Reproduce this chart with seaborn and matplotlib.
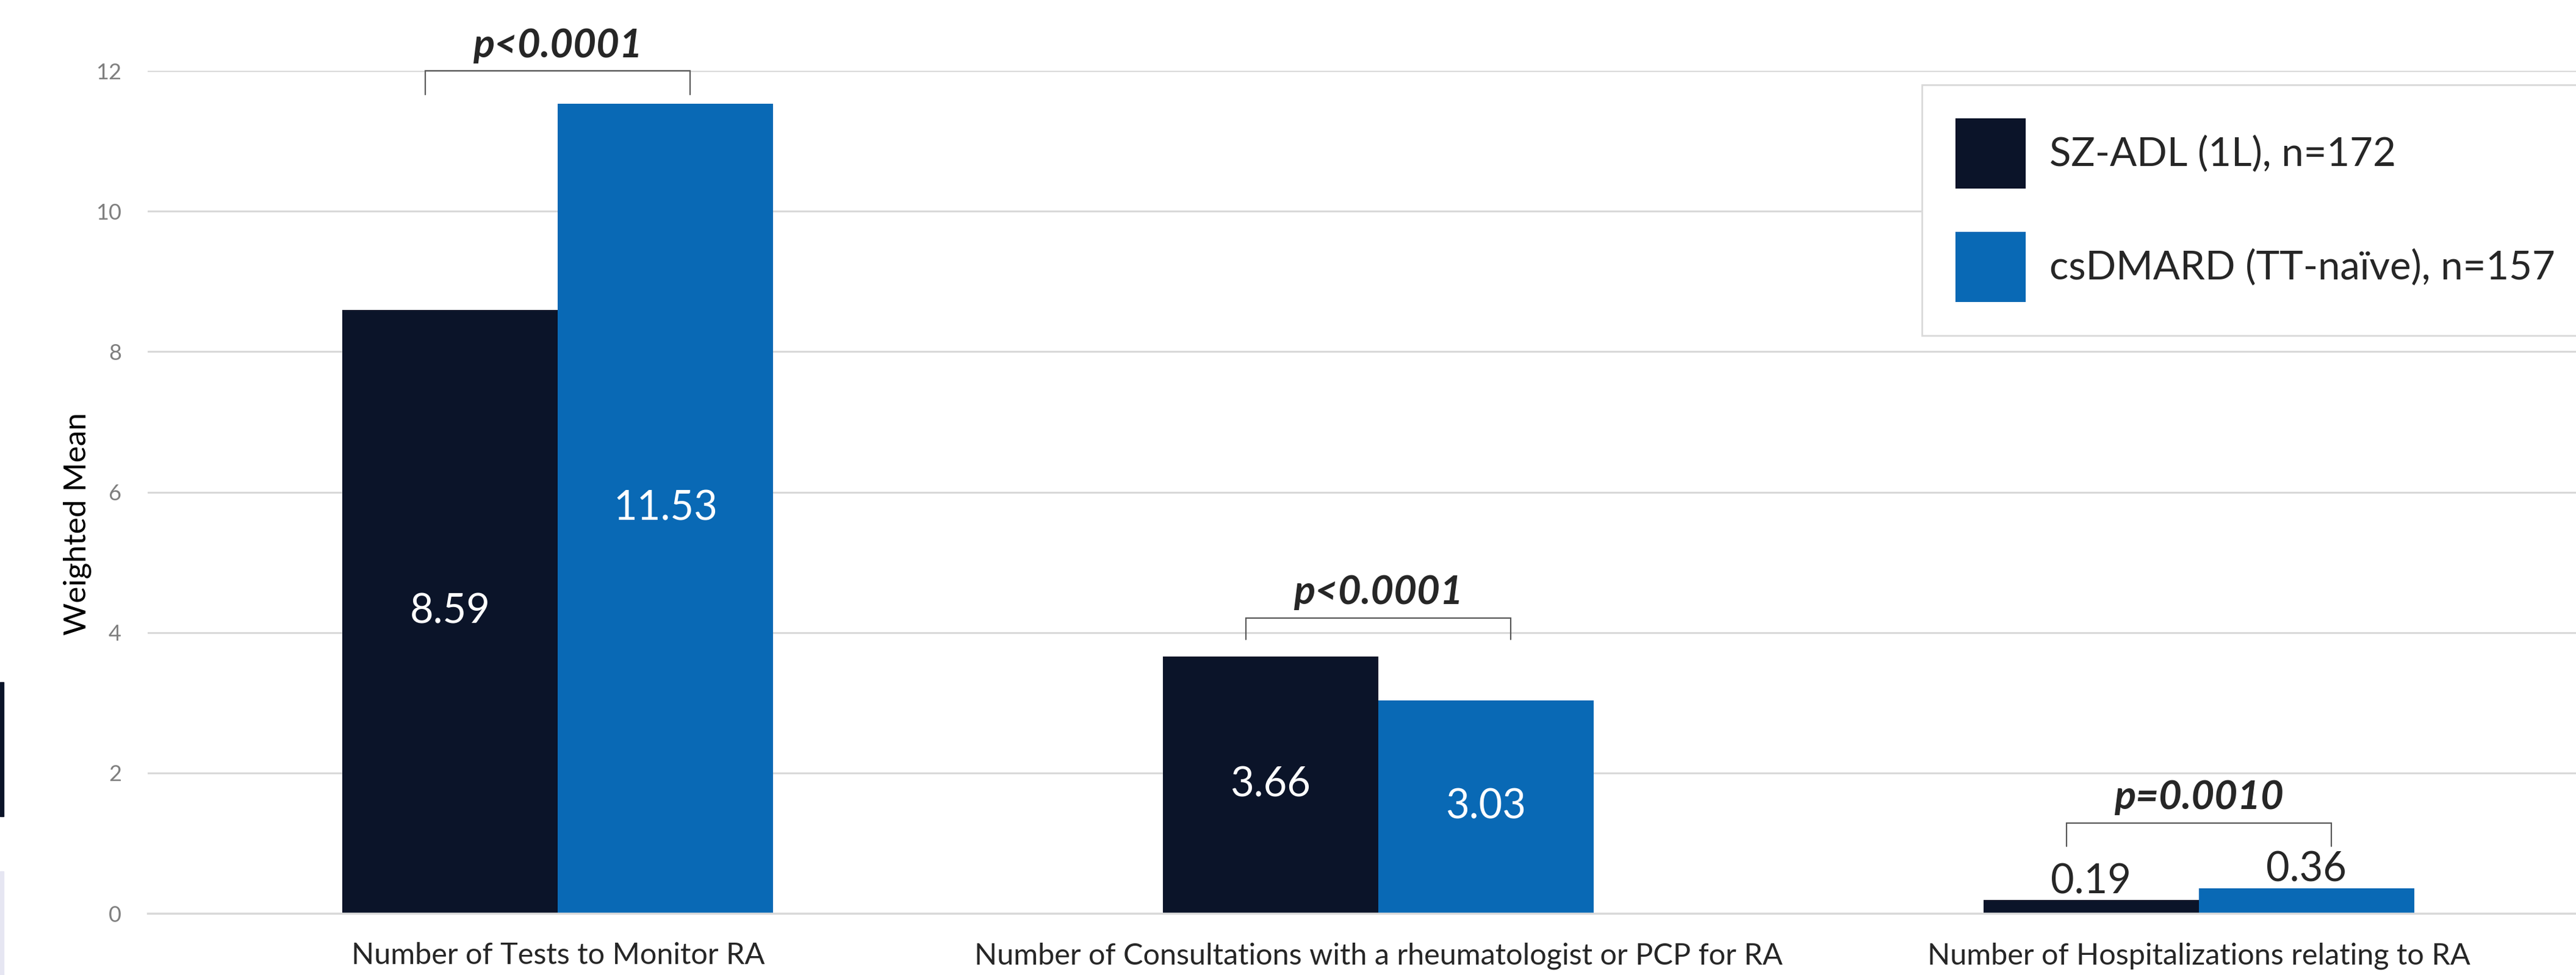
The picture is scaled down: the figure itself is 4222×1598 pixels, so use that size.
import matplotlib
matplotlib.use("Agg")
import matplotlib.pyplot as plt
from matplotlib.patches import Rectangle
from matplotlib.ticker import FixedLocator
import pandas as pd
import seaborn as sns

categories = [
    "Number of Tests to Monitor RA",
    "Number of Consultations with a rheumatologist or PCP for RA",
    "Number of Hospitalizations relating to RA",
]
groups = ["SZ-ADL (1L), n=172", "csDMARD (TT-naïve), n=157"]
sz_adl = [8.59, 3.66, 0.19]
csdmard = [11.53, 3.03, 0.36]
p_labels = ["p<0.0001", "p<0.0001", "p=0.0010"]
y_ticks = [0, 2, 4, 6, 8, 10, 12]

# layout only (annotation levels)
bracket_top = [12.0, 4.21, 1.29]
bracket_leg = [11.66, 3.90, 0.96]

dark = "#0B1429"
blue = "#0969B5"
grid_col = "#D9D9D9"

df = pd.DataFrame({
    "Measure": categories * 2,
    "Group": [groups[0]] * 3 + [groups[1]] * 3,
    "Weighted Mean": sz_adl + csdmard,
})

sns.set_theme(style="white")
plt.rcParams["font.family"] = ["Lato", "DejaVu Sans"]

fig = plt.figure(figsize=(42.22, 15.98), dpi=100)
ax = fig.add_axes([0.0573, 0.0632, 0.9555, 0.8642])

sns.barplot(data=df, x="Measure", y="Weighted Mean", hue="Group",
            palette=[dark, blue], width=0.525, saturation=1, linewidth=0,
            ax=ax)

ax.set_xlim(-0.5, 2.5)
ax.set_ylim(0, 12)
ax.set_yticks(y_ticks)
ax.yaxis.grid(True, color=grid_col, linewidth=2.2)
ax.set_axisbelow(True)
for s in ["left", "right", "top"]:
    ax.spines[s].set_visible(False)
ax.spines["bottom"].set_color(grid_col)
ax.spines["bottom"].set_linewidth(2.5)
ax.tick_params(axis="y", length=0, pad=31, labelsize=26, labelcolor="#7F7F7F")
ax.tick_params(axis="x", length=0, pad=34, labelsize=35, labelcolor="#262626")
ax.xaxis.set_minor_locator(FixedLocator([-0.5]))
ax.tick_params(axis="x", which="minor", length=12, width=2.5, color=grid_col)
ax.set_xlabel("")
ax.set_ylabel("Weighted Mean", fontsize=37, color="#000000")
ax.yaxis.set_label_coords(-0.0228, 0.4627)

# value labels
for ci, cont in enumerate(ax.containers):
    for j, bar in enumerate(cont):
        val = bar.get_height()
        xc = bar.get_x() + bar.get_width() / 2
        if val > 1:
            ax.text(xc, val / 2, f"{val:.2f}", ha="center", va="center",
                    color="white", fontsize=48)
        else:
            ax.annotate(f"{val:.2f}", (xc, val), xytext=(0, 8),
                        textcoords="offset points", ha="center",
                        va="baseline", color="#262626", fontsize=48)

# significance brackets
for j in range(len(categories)):
    b0 = ax.containers[0][j]
    b1 = ax.containers[1][j]
    x0 = b0.get_x() + b0.get_width() / 2 - 0.03
    x1 = b1.get_x() + b1.get_width() / 2 + 0.03
    top, leg = bracket_top[j], bracket_leg[j]
    ax.plot([x0, x0, x1, x1], [leg, top, top, leg], color="#595959",
            linewidth=1.6, clip_on=False, solid_joinstyle="miter")
    ax.annotate(p_labels[j], ((x0 + x1) / 2, top), xytext=(0, 16),
                textcoords="offset points", ha="center", va="baseline",
                fontsize=47, fontweight="bold", fontstyle="italic",
                color="#262626", annotation_clip=False)

handles, labels = ax.get_legend_handles_labels()
ax.get_legend().remove()
leg = fig.legend(handles, labels, loc="upper left",
                 bbox_to_anchor=(3150 / 4222, 1 - 139 / 1598),
                 fontsize=47, frameon=True, fancybox=False, framealpha=1,
                 edgecolor=grid_col, handlelength=1.76, handleheight=2.33,
                 handletextpad=0.6, labelspacing=1.09, borderpad=0.84,
                 borderaxespad=0)
leg.get_frame().set_linewidth(2)
for t in leg.get_texts():
    t.set_color("#262626")

# slide crop remnants at the left edge
fig.patches.append(Rectangle((0, 1 - 1338 / 1598), 6 / 4222, 220 / 1598,
                             transform=fig.transFigure, color=dark))
fig.patches.append(Rectangle((0, 0), 6 / 4222, 170 / 1598,
                             transform=fig.transFigure, color="#E6E6F2"))

fig.savefig("out.png", dpi=100)
